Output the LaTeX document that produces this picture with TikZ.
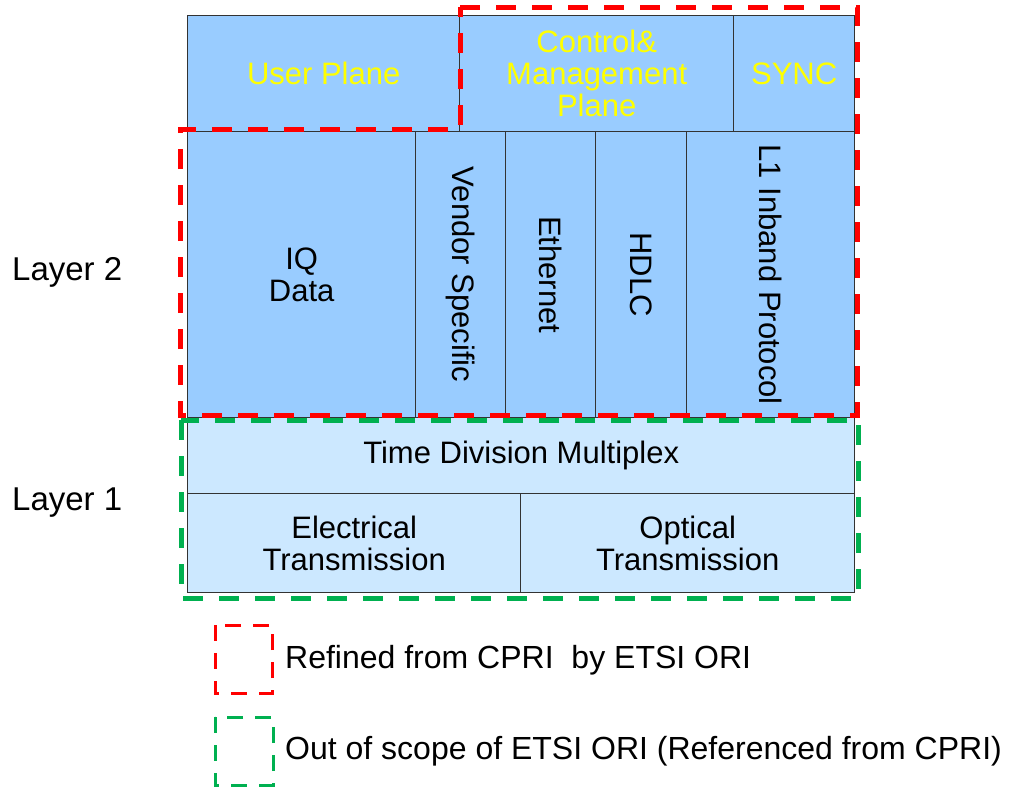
\documentclass[tikz,border=0pt]{standalone}
\usepackage{fontspec}
\setmainfont{Liberation Sans}
\definecolor{celldark}{HTML}{99CCFF}
\definecolor{celllight}{HTML}{CCE8FF}
\definecolor{gridline}{HTML}{333333}
\definecolor{planetext}{HTML}{FFFF00}
\definecolor{refred}{HTML}{FF0000}
\definecolor{scopegreen}{HTML}{00B050}
\newcommand\cellfont{\fontsize{31}{32}\selectfont}
\newcommand\layerfont{\fontsize{33}{36}\selectfont}
\newcommand\legendfont{\fontsize{32}{36}\selectfont}
\tikzset{
  cell/.style={draw=gridline, line width=1.4pt, inner sep=0pt, anchor=north west,
               align=center, font=\cellfont},
  ltwo/.style={cell, fill=celldark},
  lone/.style={cell, fill=celllight},
  plane/.style={ltwo, text=planetext},
  vlabel/.style={rotate=-90, font=\cellfont, inner sep=0pt},
  layerlabel/.style={anchor=west, font=\layerfont, inner sep=0pt},
  refined/.style={draw=refred, line width=5pt, dash pattern=on 20pt off 16pt},
  outscope/.style={draw=scopegreen, line width=5pt, dash pattern=on 20pt off 16pt},
  legendref/.style={draw=refred, line width=3pt, dash pattern=on 16pt off 12pt},
  legendout/.style={draw=scopegreen, line width=3pt, dash pattern=on 16pt off 12pt},
  legendtext/.style={anchor=west, font=\legendfont, inner sep=0pt}
}
\begin{document}
\begin{tikzpicture}[x=1pt, y=-1pt]
\useasboundingbox (0,0) rectangle (1018,787);

% top row: planes
\node[plane, minimum width=272pt, minimum height=116pt] (user) at (187,15) {User Plane};
\node[plane, minimum width=274pt, minimum height=116pt] (cm) at (459,15) {Control\&\\Management\\Plane};
\node[plane, minimum width=121pt, minimum height=116pt] (sync) at (733,15) {SYNC};

% layer 2
\node[ltwo, minimum width=228pt, minimum height=286pt] (iq) at (187,131) {IQ\\Data};
\node[ltwo, minimum width=90pt, minimum height=286pt] (vs) at (415,131) {};
\node[ltwo, minimum width=90pt, minimum height=286pt] (eth) at (505,131) {};
\node[ltwo, minimum width=91pt, minimum height=286pt] (hdlc) at (595,131) {};
\node[ltwo, minimum width=168pt, minimum height=286pt] (lone) at (686,131) {};
\node[vlabel] (vstext) at (vs.center) {Vendor Specific};
\node[vlabel] (ethtext) at (eth.center) {Ethernet};
\node[vlabel] (hdlctext) at (hdlc.center) {HDLC};
\node[vlabel] (lonetext) at (lone.center) {L1 Inband Protocol};

% layer 1
\node[lone, minimum width=667pt, minimum height=76pt] (tdm) at (187,417) {Time Division Multiplex};
\node[lone, minimum width=333pt, minimum height=99pt] (elec) at (187,493) {Electrical\\Transmission};
\node[lone, minimum width=334pt, minimum height=99pt] (opt) at (520,493) {Optical\\Transmission};

% layer names
\node[layerlabel] (ltwolabel) at (12,272) {Layer 2};
\node[layerlabel] (lonelabel) at (12,503) {Layer 1};

% scope outlines
\draw[outscope] (181,420) rectangle (858,598);
\draw[refined] (460,7) -- (857,7) -- (857,415) -- (180,415) -- (180,129) -- (460,129) -- cycle;

% legend
\draw[legendref] (215,625) rectangle (272,693);
\node[legendtext] (reftext) at (285,660) {Refined from CPRI\ \ by ETSI ORI};
\draw[legendout] (215,717) rectangle (273,785);
\node[legendtext] (outtext) at (285,751) {Out of scope of ETSI ORI (Referenced from CPRI)};
\end{tikzpicture}
\end{document}
